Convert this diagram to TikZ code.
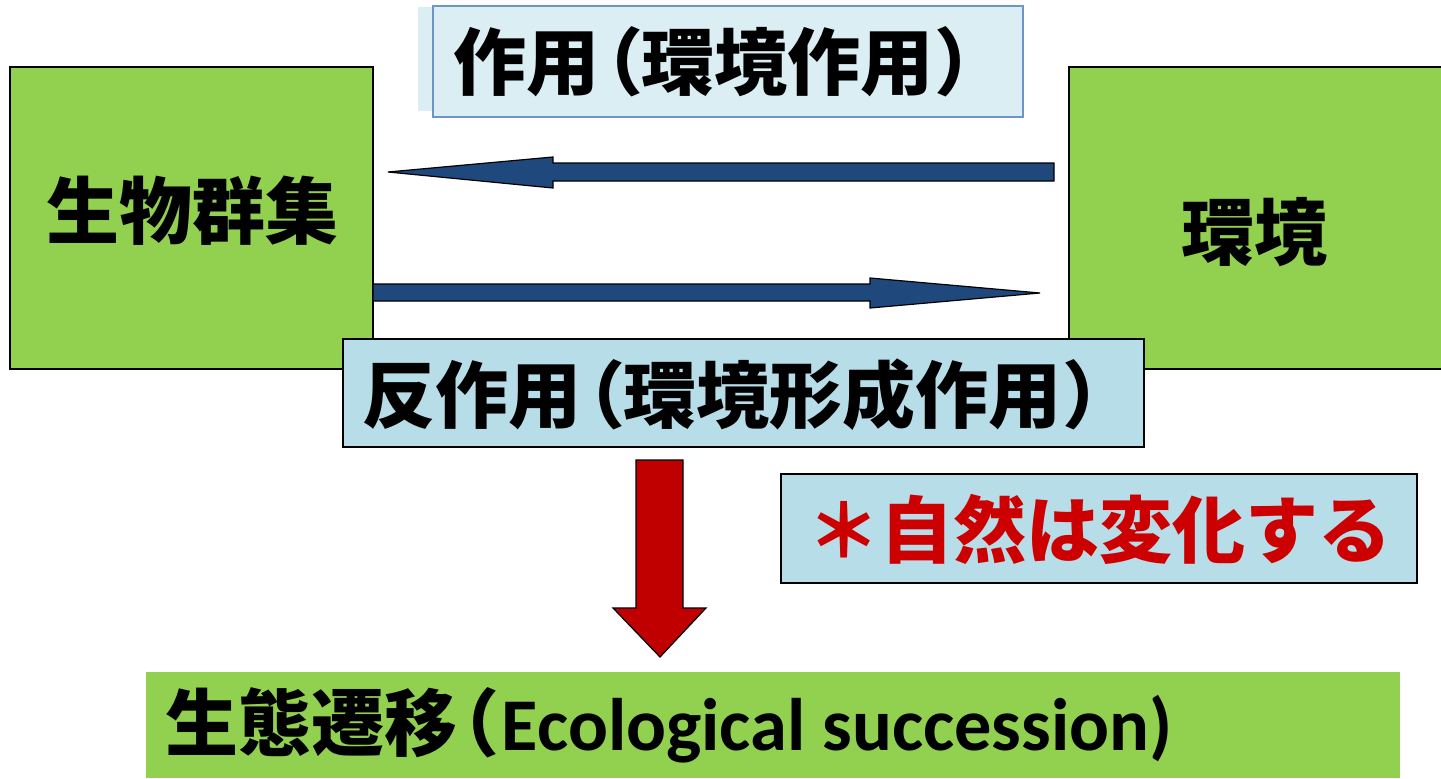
\documentclass[tikz,border=0pt]{standalone}
\usepackage{fontspec}
\newfontfamily\cjk{Noto Sans CJK JP}
\newfontfamily\cjkp{Noto Sans CJK JP}[RawFeature=+palt]
\newfontfamily\latfont{Carlito}
\newcommand\LPar{{\cjkp （}}
\newcommand\RPar{{\cjkp ）}}
\definecolor{boxgreen}{HTML}{92D050}
\definecolor{paleblue}{HTML}{DAEEF3}
\definecolor{lightblue}{HTML}{B7DEE8}
\definecolor{edgeblue}{HTML}{6F95C8}
\definecolor{arrowblue}{HTML}{1F497D}
\definecolor{arrowred}{HTML}{C00000}
\definecolor{textred}{HTML}{CC0000}
\tikzset{
  bigtext/.style={inner sep=0pt, font=\cjk\bfseries\fontsize{36.5}{40}\selectfont},
  greenbox/.style={draw=black, line width=0.7pt, fill=boxgreen},
  bluebox/.style={draw=black, line width=1pt, fill=lightblue},
  blockarrow/.style={draw=black, line width=0.6pt, line join=miter},
}
\begin{document}
\begin{tikzpicture}[x=0.5pt, y=-0.5pt]
\useasboundingbox (0,0) rectangle (1441,778);
% boxes
\path[greenbox] (10,67) rectangle (373,369);
\begin{scope}
\clip (0,0) rectangle (1441,778);
\path[greenbox] (1069,67) rectangle (1460,369);
\end{scope}
\node[bigtext, anchor=west] (bio) at (46,211) {生物群集};
\node[bigtext, anchor=west] (env) at (1181,232) {環境};
% top label box
\fill[paleblue] (418,7) rectangle (1023,111);
\path[draw=edgeblue, line width=0.8pt, fill=paleblue] (433,6) rectangle (1023,117);
\node[bigtext, anchor=west] (act) at (453,62) {作用\kern2pt\LPar\kern1pt 環境作用\kern2pt\RPar};
% blue arrows
\path[blockarrow, fill=arrowblue] (1054,163) -- (553,163) -- (553,157) -- (388,172) -- (553,188) -- (553,181) -- (1054,181) -- cycle;
\path[blockarrow, fill=arrowblue] (373,284) -- (870,284) -- (870,278) -- (1040,293) -- (870,308) -- (870,301) -- (373,301) -- cycle;
% reaction box
\path[bluebox] (343,339) rectangle (1144,447);
\node[bigtext, anchor=west] (react) at (362,395) {反作用\kern2pt\LPar\kern1pt 環境形成作用\kern2pt\RPar};
% red arrow
\path[blockarrow, fill=arrowred] (636,460) -- (683,460) -- (683,608) -- (706,608) -- (660,657) -- (613,608) -- (636,608) -- cycle;
% note box
\path[bluebox] (781,474) rectangle (1417,583);
\node[bigtext, anchor=west, text=textred] (note) at (807,529) {＊自然は変化する};
% bottom box
\fill[boxgreen] (146,672) rectangle (1400,778);
\node[bigtext, anchor=west] (succ) at (165,725) {生態遷移\kern1pt\LPar\kern3pt{\latfont\bfseries\fontsize{37.2}{40}\selectfont Ecological succession)}};
\end{tikzpicture}
\end{document}
